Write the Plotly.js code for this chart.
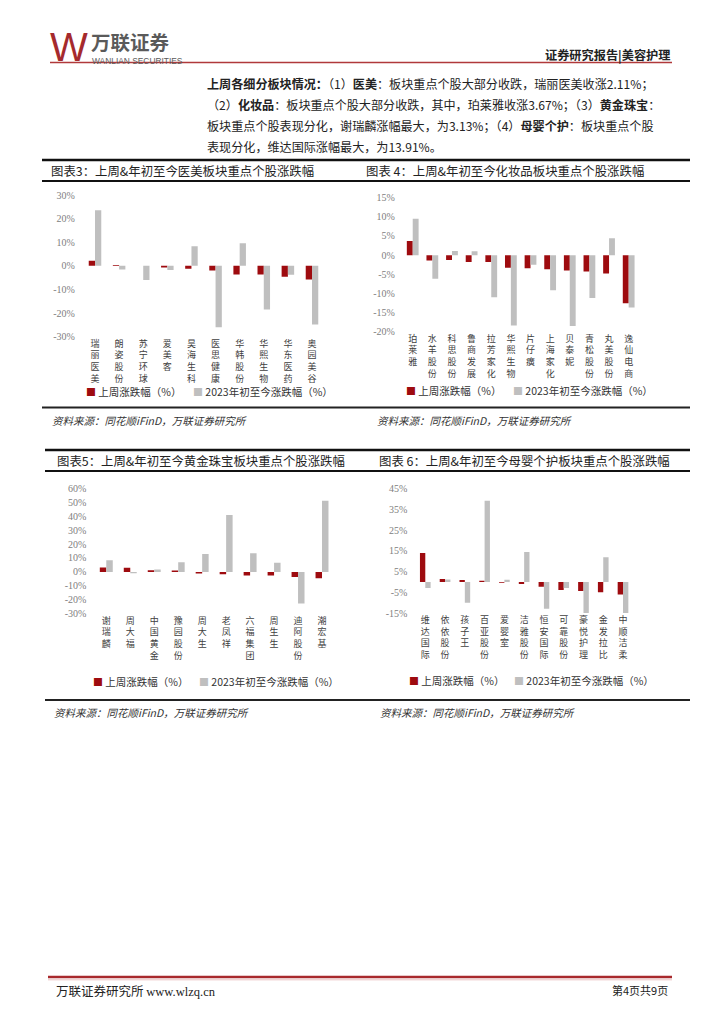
<!DOCTYPE html>
<html><head><meta charset="utf-8">
<script src="https://cdn.plot.ly/plotly-3.0.1.min.js"></script>
<style>html,body{margin:0;padding:0;background:#fff}#chart{width:724px;height:1024px}</style>
</head><body><div id="chart"></div>
<script>
// ---------- data ----------
const medCats = ["瑞丽医美","朗姿股份","苏宁环球","爱美客","昊海生科","医思健康","华韩股份","华熙生物","华东医药","奥园美谷"];
const medWeek = [2.11, 0.4, 0, -0.7, -1.2, -2.0, -3.7, -3.7, -4.6, -5.8];
const medYtd  = [23.5, -1.5, -6.0, -1.8, 8.3, -26.0, 9.6, -18.5, -3.8, -24.8];
const medTicks = [-30,-20,-10,0,10,20,30];

const cosCats = ["珀莱雅","水羊股份","科思股份","鲁商发展","拉芳家化","华熙生物","片仔癀","上海家化","贝泰妮","青松股份","丸美股份","逸仙电商"];
const cosWeek = [3.67, -1.4, -1.3, -1.8, -1.8, -3.3, -3.4, -3.7, -4.0, -4.3, -4.8, -12.6];
const cosYtd  = [9.5, -6.2, 1.05, 1.0, -11.0, -18.4, -2.5, -9.2, -18.5, -11.2, 4.4, -13.7];
const cosTicks = [-20,-15,-10,-5,0,5,10,15];

const goldCats = ["谢瑞麟","周大福","中国黄金","豫园股份","周大生","老凤祥","六福集团","周生生","迪阿股份","潮宏基"];
const goldWeek = [3.13, 2.9, 1.2, 1.0, -1.2, -1.7, -2.6, -2.6, -3.6, -4.5];
const goldYtd  = [8.4, -1.0, 1.7, 6.9, 12.9, 40.9, 13.4, 6.5, -22.7, 51.0];
const goldTicks = [-30,-20,-10,0,10,20,30,40,50,60];

const babyCats = ["维达国际","依依股份","孩子王","百亚股份","爱婴室","洁雅股份","恒安国际","可靠股份","豪悦护理","金发拉比","中顺洁柔"];
const babyWeek = [13.91, 1.4, 0.9, 0.6, -0.4, -1.0, -2.3, -3.9, -4.4, -5.0, -6.1];
const babyYtd  = [-2.9, 1.2, -10.0, 39.2, 1.1, 14.5, -12.9, -2.9, -15.3, 11.9, -15.3];
const babyTicks = [-15,-5,5,15,25,35,45];

const seriesNames = ["上周涨跌幅（%）", "2023年初至今涨跌幅（%）"];
const chartTitles = [
  "图表3：上周&年初至今医美板块重点个股涨跌幅",
  "图表 4：上周&年初至今化妆品板块重点个股涨跌幅",
  "图表5：上周&年初至今黄金珠宝板块重点个股涨跌幅",
  "图表 6：上周&年初至今母婴个护板块重点个股涨跌幅"
];
const sourceText = "资料来源：同花顺iFinD，万联证券研究所";

// ---------- style ----------
const RED = "#9e0b0f", GRAY = "#bfbfbf";
const CJK = '"Noto Sans CJK SC", "Noto Sans", sans-serif';
const SERIF = '"Liberation Serif", "DejaVu Serif", "Noto Sans CJK SC", serif';
const W = 724, H = 1024;
const X = px => px / W, Y = py => 1 - py / H;

const traces = [];
function addChart(idx, cats, wk, ytd, barW) {
  const s = idx === 1 ? "" : String(idx);
  traces.push({type:"bar", x:cats, y:wk, xaxis:"x"+s, yaxis:"y"+s, name:seriesNames[0],
    marker:{color:RED}, width:barW, offset:-barW, hoverinfo:"skip", showlegend:false});
  traces.push({type:"bar", x:cats, y:ytd, xaxis:"x"+s, yaxis:"y"+s, name:seriesNames[1],
    marker:{color:GRAY}, width:barW, offset:0, hoverinfo:"skip", showlegend:false});
}
addChart(1, medCats, medWeek, medYtd, 0.26);
addChart(2, cosCats, cosWeek, cosYtd, 0.30);
addChart(3, goldCats, goldWeek, goldYtd, 0.27);
addChart(4, babyCats, babyWeek, babyYtd, 0.27);

function xAxis(cats, x0, x1, anchor) {
  return {type:"category", domain:[X(x0), X(x1)], anchor:anchor, showline:false, showgrid:false,
    zeroline:false, ticks:"", tickangle:0, tickmode:"array", tickvals:cats,
    ticktext:cats.map(c => c.split("").join("<br>")),
    tickfont:{family:CJK, size:9, color:"#404040"}, fixedrange:true, automargin:false};
}
function yAxis(ticks, y0, y1, anchor) {
  return {domain:[Y(y1), Y(y0)], anchor:anchor, range:[ticks[0], ticks[ticks.length-1]],
    tickmode:"array", tickvals:ticks, ticktext:ticks.map(v => v + "%"),
    showline:false, showgrid:false, zeroline:false, ticks:"", ticklabelstandoff:7,
    tickfont:{family:SERIF, size:10, color:"#808080"}, fixedrange:true, automargin:false};
}

const shapes = [];
function hline(x0, x1, y, w, c) {
  shapes.push({type:"line", xref:"paper", yref:"paper", x0:X(x0), x1:X(x1), y0:Y(y), y1:Y(y),
    line:{color:c, width:w}});
}
// header and footer rules
hline(50, 672, 62.5, 1.6, "#b0393b");
hline(48, 672, 977, 2.6, "#a8292c");
hline(48, 672, 979.8, 0.8, "#e6b3b3");
// figure frames
hline(42, 690, 160, 2.6, "#111");
hline(42, 690, 181, 2, "#111");
hline(42, 690, 407.5, 2, "#222");
hline(45, 690, 450, 2.6, "#111");
hline(45, 690, 471, 2, "#111");
hline(45, 690, 700, 2, "#222");

const ann = [];
function text(t, px, py, size, opts) {
  ann.push(Object.assign({text:t, xref:"paper", yref:"paper", x:X(px), y:Y(py), xanchor:"left",
    yanchor:"middle", showarrow:false, font:{family:CJK, size:size, color:"#222"}}, opts || {}));
}
// header
text("W", 48, 47, 40, {font:{family:'"Liberation Sans", sans-serif', size:40, color:"#a52a2d"}});
text("<b>万联证券</b>", 90, 41, 19.5, {borderpad:0, font:{family:CJK, size:19.5, color:"#5a5a5a"}});
text("WANLIAN SECURITIES", 91, 60.5, 8.4, {borderpad:0, font:{family:'"Liberation Sans", sans-serif', size:8.4, color:"#5a5a5a"}});
text("<b>证券研究报告|美容护理</b>", 672, 55, 12.2, {xanchor:"right", font:{family:CJK, size:12.2, color:"#222"}});
// paragraph
const para = [
  "<b>上周各细分板块情况：</b>（1）<b>医美</b>：板块重点个股大部分收跌，瑞丽医美收涨2.11%；",
  "（2）<b>化妆品</b>：板块重点个股大部分收跌，其中，珀莱雅收涨3.67%；（3）<b>黄金珠宝</b>：",
  "板块重点个股表现分化，谢瑞麟涨幅最大，为3.13%；（4）<b>母婴个护</b>：板块重点个股",
  "表现分化，维达国际涨幅最大，为13.91%。"
];
para.forEach((p, i) => text(p, 205, 83 + i * 21, 12.1));
// titles
text(chartTitles[0], 49, 170.5, 12.4);
text(chartTitles[1], 364, 170.5, 12.4);
text(chartTitles[2], 55, 461, 12.4);
text(chartTitles[3], 377, 461, 12.4);
// legends
function legend(rx, gx, py) {
  const sq = c => '<span style="color:' + c + ';font-size:10px">■</span>';
  text(sq(RED) + " " + seriesNames[0], rx, py, 10.5, {font:{family:CJK, size:10.5, color:"#333"}});
  text(sq(GRAY) + " " + seriesNames[1], gx, py, 10.5, {font:{family:CJK, size:10.5, color:"#333"}});
}
legend(84, 191, 391);
legend(404, 511, 390);
legend(91, 197, 681);
legend(407, 512, 680);
// sources
const srcFont = {family:CJK, size:10.5, color:"#333"};
[[50, 420.5], [375, 420.5], [52, 712], [378, 712]].forEach(p =>
  text("<i>" + sourceText + "</i>", p[0], p[1], 10.5, {font:srcFont}));
// footer
text("万联证券研究所 <span style=\"font-family:'Liberation Serif'\">www.wlzq.cn</span>", 54, 990, 12.5, {font:{family:CJK, size:12.5, color:"#222"}});
text("第4页共9页", 670, 990, 11, {xanchor:"right", font:{family:CJK, size:11, color:"#222"}});

const layout = {
  width:W, height:H, margin:{l:0, r:0, t:0, b:0}, paper_bgcolor:"#fff", plot_bgcolor:"rgba(0,0,0,0)",
  showlegend:false, barmode:"group",
  xaxis: xAxis(medCats, 82.95, 324.05, "y"),
  yaxis: yAxis(medTicks, 195, 336.7, "x"),
  xaxis2: xAxis(cosCats, 402.9, 638.5, "y2"),
  yaxis2: yAxis(cosTicks, 197.7, 331.7, "x2"),
  xaxis3: xAxis(goldCats, 94.3, 334, "y3"),
  yaxis3: yAxis(goldTicks, 488.3, 613.7, "x3"),
  xaxis4: xAxis(babyCats, 415.4, 632.9, "y4"),
  yaxis4: yAxis(babyTicks, 488.7, 613, "x4"),
  shapes:shapes, annotations:ann
};
Plotly.newPlot("chart", traces, layout, {staticPlot:true, displayModeBar:false});
</script>
</body></html>
